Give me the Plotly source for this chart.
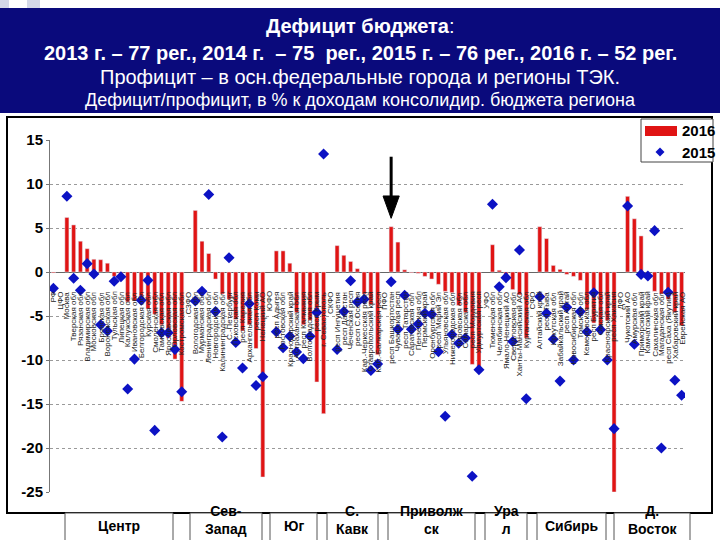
import plotly.graph_objects as go

regions = [
    "РФ", "ЦФО", "Москва", "Тверская обл", "Рязанская обл", "Владимирская обл", "Московская обл",
    "Брянская обл", "Воронежская обл", "Тульская обл", "Липецкая обл", "Калужская обл",
    "Ивановская обл", "Белгородская обл", "Курская обл", "Смоленская обл", "Тамбовская обл",
    "Ярославская обл", "Орловская обл", "Костромская обл",
    "СЗФО", "Вологодская обл", "Мурманская обл", "Ленинградская обл", "Новгородская обл",
    "Калининградская обл", "С.-Петербург", "Псковская обл", "респ Карелия", "Архангельская обл",
    "респ Коми", "Ненецкий АО",
    "ЮФО", "респ Адыгея", "Ростовская обл", "Краснодарский край", "Астраханская обл",
    "респ Калмыкия", "Волгоградская обл", "респ Крым", "г. Севастополь",
    "СКФО", "респ Ингушетия", "респ Дагестан", "Чеченская респ", "респ С.Осетия",
    "Кар.-Черкесская респ", "Ставропольский край", "Каб.-Балкарская респ",
    "ПФО", "респ Башкортостан", "Чувашская респ", "респ Татарстан", "Саратовская обл",
    "Пензенская обл", "Пермский край", "Оренбургская обл", "респ Марий Эл", "Ульяновская обл",
    "Нижегородская обл", "Кировская обл", "Самарская обл", "респ Мордовия", "Удмуртская респ",
    "УФО", "Тюменская обл", "Челябинская обл", "Ямало-Ненецкий АО", "Свердловская обл",
    "Ханты-Мансийский АО", "Курганская обл",
    "СФО", "Алтайский край", "респ Тыва", "Иркутская обл", "Забайкальский край", "респ Алтай",
    "Новосибирская обл", "Томская обл", "Кемеровская обл", "респ Бурятия", "Омская обл",
    "Красноярский край", "респ Хакасия",
    "ДФО", "Чукотский АО", "Амурская обл", "Приморский край", "Камчатский край",
    "Сахалинская обл", "Магаданская обл", "респ Саха (Якутия)", "Хабаровский край", "Еврейская АО",
]

deficit_2016 = [
    -0.1, None, 6.2, 5.35, 3.5, 2.65, 1.45, 1.4, 1.0, -0.5, -0.3, -3.4, -3.3, -3.0, -4.2, -4.8,
    -6.0, -7.5, -9.9, -14.7,
    None, 7.0, 3.5, 2.1, -0.8, -2.5, -3.1, -5.4, -6.7, -6.0, -8.7, -23.3,
    None, 2.4, 2.4, 1.0, -4.6, -6.0, -5.5, -12.5, -16.1,
    None, 3.0, 1.9, 1.2, 0.38, -2.5, -3.7, -9.4,
    None, 5.15, 3.4, 0.25, -0.08, -0.15, -0.5, -0.8, -1.4, -2.2, -2.35, -3.8, -4.6, -10.5, -11.0,
    None, 3.1, 0.2, -0.3, -2.0, -2.6, -7.5,
    None, 5.15, 3.8, 0.75, 0.3, -0.27, -0.5, -0.95, -4.3, -5.8, -6.3, -5.5, -25.0,
    None, 8.6, 6.05, 4.1, -0.05, -2.2, -2.5, -3.1, -4.6, -6.1,
]

deficit_2015 = [
    -1.86, None, 8.6, -0.72, -2.08, 0.95, -0.23, -6.0, -6.7, -1.06, -0.53, -13.3, -9.9, -3.2,
    -0.95, -18.0, -6.9, -6.9, -8.8, -13.6,
    None, -3.3, -2.2, 8.8, -4.5, -18.75, 1.63, -8.0, -10.9, -3.6, -12.9, -11.9,
    None, -6.8, -8.6, -7.3, -9.1, -9.85, -7.3, -4.6, 13.4,
    None, -8.8, -4.5, -1.0, -3.4, -3.1, -11.2, -10.45,
    None, -1.1, -6.5, -2.65, -6.5, -5.9, -4.7, -4.8, -9.05, -16.4, -7.1, -8.1, -7.5, -23.2, -11.1,
    None, 7.7, -1.67, -0.64, -7.9, 2.5, -14.4,
    None, -2.8, -4.7, -7.65, -12.4, -4.0, -10.0, -4.5, -6.8, -2.35, -6.55, -10.0, -17.8,
    None, 7.5, -8.2, -0.27, -0.45, 4.7, -20.0, -2.3, -12.3, -14.0,
]

y_tick_values = [-25, -20, -15, -10, -5, 0, 5, 10, 15]
y_tick_labels = ["-25", "-20", "-15", "-10", "-5", "0", "5", "10", "15"]

title_lines = [
    "<b>Дефицит бюджета</b>:",
    "<b>2013 г. – 77 рег., 2014 г.  – 75  рег., 2015 г. – 76 рег., 2016 г. – 52 рег.</b>",
    "Профицит – в осн.федеральные города и регионы ТЭК.",
    "Дефицит/профицит, в % к доходам консолидир. бюджета региона",
]
legend_names = ["2016", "2015"]
district_names = ["Центр", "Сев-<br>Запад", "Юг", "С.<br>Кавк", "Приволж<br>ск", "Ура<br>л", "Сибирь", "Д.<br>Восток"]

# ---- layout geometry (pixels) ----
W, H = 720, 540
L, R, T, B = 50, 35, 140, 48
PW, PH = W - L - R, H - T - B


def px(x):
    return (x - L) / PW


def py(y):
    return (H - B - y) / PH


SANS = "Liberation Sans, Arial, sans-serif"
RED = "#e01414"
BLUE = "#0c12c4"
NAVY = "#0a0a7c"

idx = list(range(len(regions)))

fig = go.Figure()
fig.add_trace(go.Bar(x=idx, y=deficit_2016, name=legend_names[0], marker_color=RED,
                     width=0.6, showlegend=False))
fig.add_trace(go.Scatter(x=idx, y=deficit_2015, name=legend_names[1], mode="markers",
                         marker=dict(symbol="diamond", size=8.5, color=BLUE), showlegend=False))

annotations = []
shapes = []

# category labels (rotated, hanging below the zero line)
for i, name in enumerate(regions):
    annotations.append(dict(x=i, y=-2.0, xref="x", yref="y", text=name, textangle=-90,
                            showarrow=False, xanchor="center", yanchor="top",
                            font=dict(family=SANS, size=8, color="#222")))

# header band
shapes.append(dict(type="rect", xref="paper", yref="paper", x0=px(0), x1=px(720),
                   y0=py(113), y1=py(8), fillcolor=NAVY, line=dict(width=0), layer="below"))
shapes.append(dict(type="rect", xref="paper", yref="paper", x0=px(0), x1=px(9),
                   y0=py(8), y1=py(0), fillcolor="#d4d8e8", line=dict(width=0), layer="below"))
shapes.append(dict(type="rect", xref="paper", yref="paper", x0=px(27), x1=px(40),
                   y0=py(8), y1=py(0), fillcolor="#d4d8e8", line=dict(width=0), layer="below"))
title_y = [26, 53, 77, 100]
title_size = [20, 20, 20, 18]
for t, yy, fs in zip(title_lines, title_y, title_size):
    annotations.append(dict(x=px(360), y=py(yy), xref="paper", yref="paper", text=t,
                            showarrow=False, xanchor="center", yanchor="middle",
                            font=dict(family=SANS, size=fs, color="white")))

# chart frame
shapes.append(dict(type="rect", xref="paper", yref="paper", x0=px(7), x1=px(712),
                   y0=py(513), y1=py(117), line=dict(color="black", width=2)))

# arrow
shapes.append(dict(type="line", xref="x", yref="y", x0=50, x1=50, y0=13.1, y1=8.5,
                   line=dict(color="black", width=3)))
shapes.append(dict(type="path", xref="x", yref="y",
                   path="M 48.8,8.64 L 51.2,8.64 L 50,6.1 Z",
                   fillcolor="black", line=dict(color="black", width=1)))

# legend
shapes.append(dict(type="rect", xref="paper", yref="paper", x0=px(641), x1=px(713),
                   y0=py(162), y1=py(119), fillcolor="white", line=dict(color="#444", width=1)))
shapes.append(dict(type="rect", xref="paper", yref="paper", x0=px(645), x1=px(677),
                   y0=py(136), y1=py(126), fillcolor=RED, line=dict(width=0)))
cx, cy = 660, 152
shapes.append(dict(type="path", xref="paper", yref="paper",
                   path=f"M {px(cx-4.5)},{py(cy)} L {px(cx)},{py(cy-4.5)} L {px(cx+4.5)},{py(cy)} L {px(cx)},{py(cy+4.5)} Z",
                   fillcolor=BLUE, line=dict(width=0)))
for name, yy in zip(legend_names, [131, 152]):
    annotations.append(dict(x=px(680), y=py(yy), xref="paper", yref="paper", text=f"<b>{name}</b>",
                            showarrow=False, xanchor="left", yanchor="middle",
                            font=dict(family=SANS, size=15, color="black")))

# district boxes
box_spans = [(65, 173), (190, 262), (270, 317), (327, 378), (388, 475), (485, 527), (537, 606), (614, 690)]
for name, (x0, x1) in zip(district_names, box_spans):
    shapes.append(dict(type="rect", xref="paper", yref="paper", x0=px(x0), x1=px(x1),
                       y0=py(548), y1=py(513), fillcolor="white", line=dict(color="#555", width=1)))
    two = "<br>" in name
    annotations.append(dict(x=px((x0 + x1) / 2), y=py(520 if two else 526), xref="paper", yref="paper",
                            text=f"<b>{name}</b>", showarrow=False, xanchor="center", yanchor="middle",
                            font=dict(family=SANS, size=14, color="black")))

fig.update_layout(
    width=W, height=H,
    margin=dict(l=L, r=R, t=T, b=B, pad=0),
    paper_bgcolor="white", plot_bgcolor="white",
    bargap=0.4,
    showlegend=False,
    annotations=annotations,
    shapes=shapes,
    xaxis=dict(range=[-0.5, len(regions) - 0.5], showgrid=False, zeroline=False,
               showticklabels=False, showline=False, ticks=""),
    yaxis=dict(range=[-25, 15], tickvals=y_tick_values, ticktext=y_tick_labels,
               showgrid=True, gridcolor="#9a9a9a", griddash="dot", gridwidth=1,
               zeroline=True, zerolinecolor="#666", zerolinewidth=1,
               showline=True, linecolor="#777", linewidth=1,
               ticks="outside", ticklen=3, tickcolor="#777",
               tickfont=dict(family=SANS, size=15, color="black", weight="bold")),
)

fig.write_html("out.html", config={"displayModeBar": False},
               post_script="document.body.style.margin='0';document.body.style.overflow='hidden';")
